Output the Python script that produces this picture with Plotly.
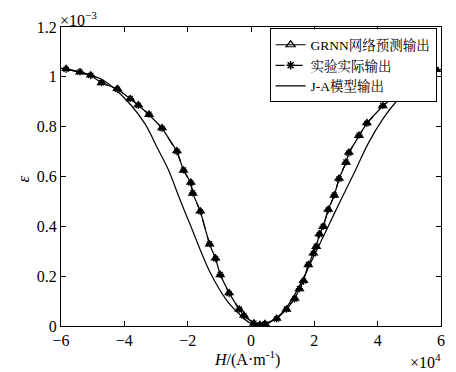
import plotly.graph_objects as go

# Data (H in units of 1e4 A/m, strain in units of 1e-3)
exp_x = [-5.84, -5.4, -5.06, -4.72, -4.22, -3.81, -3.56, -3.22, -2.81, -2.34, -2.13, -1.9,
         -1.84, -1.6, -1.31, -1.12, -0.97, -0.69, -0.37, -0.22, 0.09, 0.28, 0.44, 0.81,
         1.12, 1.38, 1.53, 1.66, 1.81, 1.97, 2.06, 2.16, 2.28, 2.44, 2.63, 2.78, 3.0,
         3.09, 3.41, 3.66, 4.16, 4.63, 5.1, 5.5, 5.85]
exp_y = [1.03, 1.02, 1.005, 0.977, 0.95, 0.913, 0.885, 0.85, 0.793, 0.70, 0.626, 0.574,
         0.534, 0.459, 0.33, 0.27, 0.207, 0.13, 0.068, 0.04, 0.012, 0.004, 0.008, 0.028,
         0.068, 0.108, 0.15, 0.18, 0.247, 0.29, 0.32, 0.367, 0.40, 0.466, 0.526, 0.59, 0.658,
         0.694, 0.766, 0.813, 0.885, 0.929, 0.97, 1.0, 1.03]
grnn_x = exp_x
grnn_y = [1.032, 1.018, 1.006, 0.975, 0.952, 0.911, 0.887, 0.848, 0.795, 0.702, 0.624, 0.576,
          0.532, 0.461, 0.328, 0.272, 0.205, 0.132, 0.066, 0.042, 0.010, 0.005, 0.009, 0.030,
          0.066, 0.11, 0.148, 0.182, 0.245, 0.292, 0.318, 0.369, 0.398, 0.468, 0.524, 0.592,
          0.656, 0.696, 0.764, 0.815, 0.883, 0.931, 0.968, 1.002, 1.028]
ja_x = [-6.0, -5.4, -4.72, -4.28, -3.78, -3.34, -2.94, -2.62, -2.25, -1.9, -1.31, -0.75,
        -0.37, -0.06, 0.19, 0.5, 1.03, 1.44, 2.06, 2.66, 2.97, 3.28, 3.69, 4.16, 4.56,
        5.03, 5.5, 6.0]
ja_y = [1.035, 1.02, 0.99, 0.949, 0.885, 0.81, 0.71, 0.63, 0.51, 0.40, 0.22, 0.10,
        0.048, 0.014, 0.0, 0.008, 0.06, 0.14, 0.30, 0.459, 0.54, 0.62, 0.73, 0.83, 0.897,
        0.957, 0.997, 1.03]

x_ticks = [-6, -4, -2, 0, 2, 4, 6]
y_ticks = [0, 0.2, 0.4, 0.6, 0.8, 1, 1.2]
y_tick_labels = ["0", "0.2", "0.4", "0.6", "0.8", "1", "1.2"]

names = ["GRNN网络预测输出", "实验实际输出", "J-A模型输出"]

FONT = "Liberation Serif, Times New Roman, Noto Serif CJK SC, Noto Sans CJK SC, serif"

fig = go.Figure()
# data traces
fig.add_trace(go.Scatter(x=ja_x, y=ja_y, mode="lines", line=dict(color="black", width=1.2),
                         showlegend=False, line_shape="spline"))
fig.add_trace(go.Scatter(x=exp_x, y=exp_y, mode="lines+markers",
                         line=dict(color="black", width=1.2, dash="dash"),
                         marker=dict(symbol="asterisk-open", size=6, line=dict(color="black", width=1.2)),
                         showlegend=False))
fig.add_trace(go.Scatter(x=grnn_x, y=grnn_y, mode="lines+markers",
                         line=dict(color="black", width=1.2),
                         marker=dict(symbol="triangle-up", size=9, color="black"),
                         showlegend=False))
# legend entries
fig.add_trace(go.Scatter(x=[None], y=[None], mode="lines+markers", name=names[0],
                         line=dict(color="black", width=1.2),
                         marker=dict(symbol="triangle-up-open", size=8, line=dict(color="black", width=1.2))))
fig.add_trace(go.Scatter(x=[None], y=[None], mode="lines+markers", name=names[1],
                         line=dict(color="black", width=1.2, dash="dash"),
                         marker=dict(symbol="asterisk-open", size=7, line=dict(color="black", width=1.5))))
fig.add_trace(go.Scatter(x=[None], y=[None], mode="lines", name=names[2],
                         line=dict(color="black", width=1.2)))

axis_common = dict(showline=True, linecolor="black", linewidth=1, mirror="ticks",
                   ticks="inside", ticklen=5, tickcolor="black", showgrid=False,
                   zeroline=False, tickfont=dict(family=FONT, size=16, color="black"))

# page has an 8px body margin: figure is 448x364 placed at (8, 8)
fig.update_layout(
    width=448, height=364,
    margin=dict(l=53, r=11, t=19, b=46),
    paper_bgcolor="white", plot_bgcolor="white",
    font=dict(family=FONT, color="black"),
    xaxis=dict(range=[-6, 6], tickvals=x_ticks, ticktext=[str(v).replace("-", "−") for v in x_ticks],
               **axis_common),
    yaxis=dict(range=[0, 1.2], tickvals=y_ticks, ticktext=y_tick_labels, **axis_common),
    legend=dict(x=0.549, y=0.995, xanchor="left", yanchor="top", bgcolor="white",
                bordercolor="black", borderwidth=1, font=dict(family=FONT, size=13.5, color="black"),
                tracegroupgap=0, itemwidth=30),
    annotations=[
        dict(text="×10<sup>−3</sup>", xref="paper", yref="paper", x=-0.008, y=1.028, xanchor="left",
             yanchor="middle", showarrow=False, font=dict(family=FONT, size=16)),
        dict(text="×10<sup>4</sup>", xref="paper", yref="paper", x=1.005, y=-0.118, xanchor="right",
             yanchor="middle", showarrow=False, font=dict(family=FONT, size=16)),
        dict(text="<i>H</i>/(A·m<sup>-1</sup>)", xref="paper", yref="paper", x=0.49, y=-0.11,
             xanchor="center", yanchor="middle", showarrow=False, font=dict(family=FONT, size=16)),
        dict(text="<i>ε</i>", xref="paper", yref="paper", x=-0.10, y=0.49, xanchor="center",
             yanchor="middle", showarrow=False, textangle=-90, font=dict(family=FONT, size=17)),
    ],
)

fig.write_html("out.html")
